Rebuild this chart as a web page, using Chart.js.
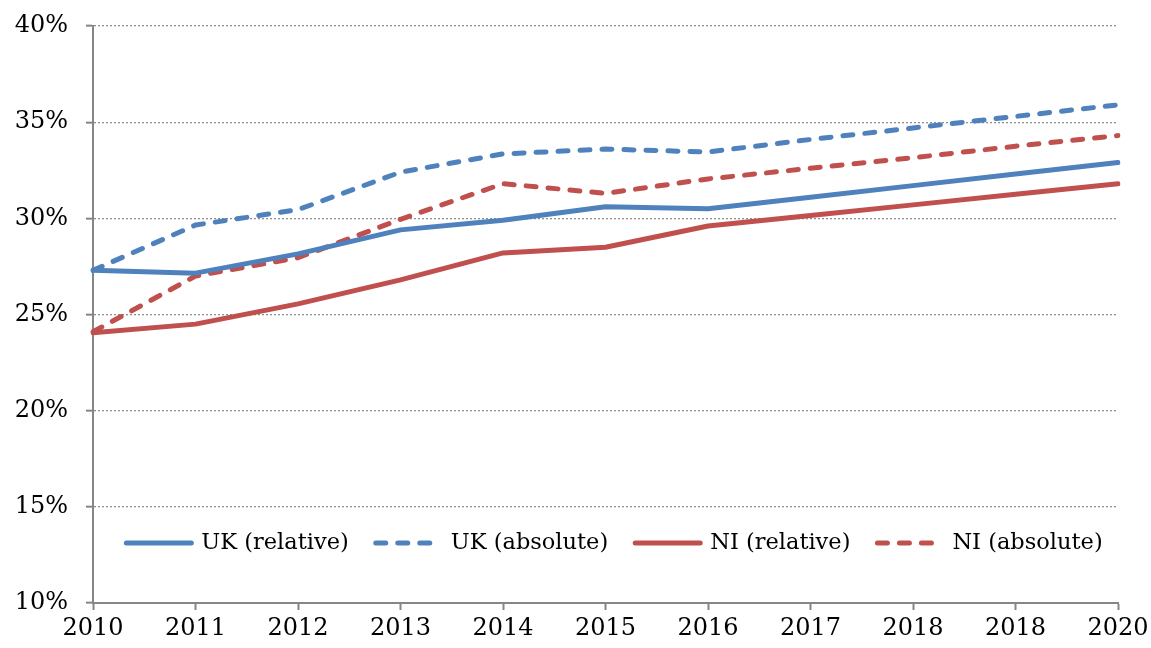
<!DOCTYPE html>
<html>
<head>
<meta charset="utf-8">
<script src="https://cdn.jsdelivr.net/npm/chart.js@4/dist/chart.umd.min.js"></script>
<style>
html,body{margin:0;padding:0;background:#fff;}
#wrap{width:1151px;height:648px;}
</style>
</head>
<body>
<div id="wrap"><canvas id="c" width="1151" height="648"></canvas></div>
<script>
const years = ['2010','2011','2012','2013','2014','2015','2016','2017','2018','2018','2020'];
const yTicks = [10,15,20,25,30,35,40];
const ukRelative = [27.3, 27.15, 28.15, 29.4, 29.9, 30.6, 30.5, 31.1, 31.7, 32.3, 32.9];
const ukAbsolute = [27.3, 29.65, 30.45, 32.4, 33.35, 33.6, 33.45, 34.1, 34.7, 35.3, 35.9];
const niRelative = [24.05, 24.5, 25.55, 26.8, 28.2, 28.5, 29.6, 30.15, 30.7, 31.25, 31.8];
const niAbsolute = [24.1, 27.0, 27.95, 29.95, 31.8, 31.3, 32.05, 32.6, 33.15, 33.75, 34.3];
const seriesNames = ['UK (relative)','UK (absolute)','NI (relative)','NI (absolute)'];

const BLUE = '#4F81BD', RED = '#C0504D';
const DASH = [10,12];
const FONT = '"DejaVu Serif", serif';

function ds(label, data, color, dashed){
  return {label, data, borderColor: color, backgroundColor: color, borderWidth: 5,
    borderDash: dashed ? DASH : [], borderCapStyle: 'round', borderJoinStyle: 'round',
    pointRadius: 0, tension: 0, fill: false};
}

const legendPlugin = {
  id: 'innerLegend',
  afterDatasetsDraw(chart){
    const ctx = chart.ctx;
    const area = chart.chartArea;
    const y = 543;
    const sample = 65, gapText = 10, gapItem = 27;
    ctx.save();
    ctx.font = '22.5px ' + FONT;
    const items = chart.data.datasets.map(d => ({d, w: sample + gapText + ctx.measureText(d.label).width}));
    const total = items.reduce((s,i)=>s+i.w,0) + gapItem*(items.length-1);
    let x = (area.left + area.right)/2 - total/2 + 9;
    items.forEach(it => {
      const d = it.d;
      ctx.strokeStyle = d.borderColor;
      ctx.lineWidth = d.borderWidth;
      ctx.lineCap = 'round';
      ctx.setLineDash(d.borderDash);
      ctx.beginPath(); ctx.moveTo(x, y); ctx.lineTo(x + sample, y); ctx.stroke();
      ctx.setLineDash([]);
      ctx.fillStyle = '#000';
      ctx.textBaseline = 'middle';
      ctx.textAlign = 'left';
      ctx.fillText(d.label, x + sample + gapText, y);
      x += it.w + gapItem;
    });
    ctx.restore();
  }
};

new Chart(document.getElementById('c'), {
  type: 'line',
  data: {
    labels: years,
    datasets: [
      ds(seriesNames[0], ukRelative, BLUE, false),
      ds(seriesNames[1], ukAbsolute, BLUE, true),
      ds(seriesNames[2], niRelative, RED, false),
      ds(seriesNames[3], niAbsolute, RED, true)
    ]
  },
  options: {
    responsive: false,
    animation: false,
    layout: {padding: {top: 26, right: 33, left: 0, bottom: 0}},
    plugins: {legend: {display: false}, tooltip: {enabled: false}},
    scales: {
      x: {
        type: 'category',
        offset: false,
        grid: {display: true, drawOnChartArea: false, drawTicks: true, tickLength: 7, tickColor: '#868686', tickWidth: 2},
        border: {display: true, color: '#868686', width: 2},
        ticks: {color: '#000', font: {family: FONT, size: 24}, padding: 4, maxRotation: 0, autoSkip: false},
        afterFit(s){ s.height = 45; s.paddingLeft = 0; s.paddingRight = 0; }
      },
      y: {
        min: 10, max: 40,
        afterBuildTicks(s){ s.ticks = yTicks.map(v => ({value: v})); },
        grid: {color: '#8f8f8f', lineWidth: 1.3, drawTicks: true, tickLength: 7, tickColor: '#868686', tickWidth: 2, tickBorderDash: []},
        border: {display: true, color: '#868686', width: 2, dash: [2,2]},
        ticks: {color: '#000', font: {family: FONT, size: 24}, padding: 18, callback: v => v + '%'},
        afterFit(s){ s.width = 93; s.paddingTop = 0; s.paddingBottom = 0; }
      }
    }
  },
  plugins: [legendPlugin]
});
</script>
</body>
</html>
